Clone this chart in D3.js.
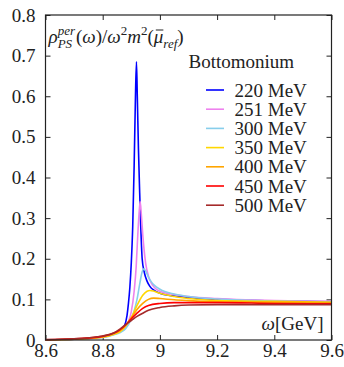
<!DOCTYPE html>
<html>
<head>
<meta charset="utf-8">
<script src="https://cdn.jsdelivr.net/npm/d3@7"></script>
<style>
  body { margin: 0; background: #fff; }
</style>
</head>
<body>
<svg id="chart" width="344" height="367" style="font-family: 'Liberation Serif', 'DejaVu Serif', serif;"></svg>
<script>
// values, [omega GeV, rho/omega^2 m^2]
const s220 = [[8.6,0.0005],[8.7,0.002],[8.75,0.004],[8.8,0.008],[8.84,0.015],[8.86,0.022],[8.875,0.033],[8.885,0.06],[8.89,0.09],[8.895,0.13],[8.9,0.19],[8.905,0.28],[8.91,0.43],[8.914,0.58],[8.918,0.685],[8.921,0.6],[8.925,0.47],[8.929,0.37],[8.933,0.28],[8.938,0.2],[8.945,0.168],[8.955,0.145],[8.965,0.132],[8.98,0.122],[9.0,0.115],[9.03,0.11],[9.1,0.105],[9.2,0.1],[9.3,0.098],[9.4,0.096],[9.5,0.095],[9.6,0.094]];
const s251 = [[8.6,0.0005],[8.7,0.002],[8.8,0.007],[8.84,0.014],[8.86,0.02],[8.88,0.031],[8.89,0.045],[8.9,0.07],[8.91,0.12],[8.917,0.18],[8.922,0.25],[8.927,0.31],[8.931,0.341],[8.935,0.31],[8.94,0.26],[8.945,0.22],[8.95,0.19],[8.96,0.157],[8.97,0.14],[8.98,0.13],[9.0,0.12],[9.05,0.112],[9.1,0.107],[9.2,0.102],[9.3,0.099],[9.4,0.097],[9.5,0.096],[9.6,0.095]];
const s300 = [[8.6,0.0005],[8.7,0.002],[8.8,0.006],[8.84,0.013],[8.86,0.018],[8.88,0.028],[8.9,0.052],[8.91,0.072],[8.92,0.1],[8.93,0.14],[8.938,0.168],[8.944,0.175],[8.95,0.17],[8.96,0.155],[8.97,0.143],[8.98,0.135],[9.0,0.125],[9.05,0.113],[9.1,0.107],[9.2,0.101],[9.3,0.098],[9.4,0.096],[9.6,0.094]];
const s350 = [[8.6,0.0005],[8.7,0.002],[8.8,0.007],[8.84,0.014],[8.86,0.02],[8.88,0.034],[8.9,0.055],[8.92,0.085],[8.94,0.11],[8.955,0.12],[8.965,0.122],[8.98,0.12],[9.0,0.115],[9.05,0.107],[9.1,0.102],[9.2,0.097],[9.4,0.095],[9.6,0.093]];
const s400 = [[8.6,0.0005],[8.7,0.002],[8.8,0.008],[8.84,0.016],[8.86,0.023],[8.88,0.036],[8.9,0.055],[8.92,0.075],[8.94,0.09],[8.96,0.1],[8.978,0.103],[9.0,0.102],[9.05,0.099],[9.1,0.097],[9.2,0.094],[9.4,0.093],[9.6,0.092]];
const s450 = [[8.6,0.0005],[8.7,0.003],[8.8,0.009],[8.84,0.017],[8.86,0.025],[8.88,0.037],[8.9,0.052],[8.92,0.066],[8.94,0.078],[8.96,0.085],[9.0,0.09],[9.05,0.092],[9.1,0.092],[9.2,0.092],[9.4,0.09],[9.6,0.089]];
const s500 = [[8.6,0.001],[8.7,0.003],[8.8,0.01],[8.84,0.018],[8.86,0.027],[8.88,0.038],[8.9,0.048],[8.92,0.058],[8.94,0.066],[8.96,0.073],[9.0,0.08],[9.05,0.084],[9.1,0.086],[9.2,0.087],[9.4,0.087],[9.6,0.087]];

const labels = ["220 MeV", "251 MeV", "300 MeV", "350 MeV", "400 MeV", "450 MeV", "500 MeV"];
const colors = ["#0000ff", "#ee82ee", "#87ceeb", "#ffd700", "#ffa500", "#ff0000", "#a52a2a"];
const allSeries = [s220, s251, s300, s350, s400, s450, s500];

const xTicks = [8.6, 8.8, 9.0, 9.2, 9.4, 9.6];
const yTicks = [0, 0.1, 0.2, 0.3, 0.4, 0.5, 0.6, 0.7, 0.8];

const FS = 19;
const SERIF = "'Liberation Serif', 'DejaVu Serif', serif";
const svg = d3.select("#chart");
const margin = { top: 15, right: 12.5, bottom: 27, left: 45.5 };
const innerWidth = 344 - margin.left - margin.right;
const innerHeight = 367 - margin.top - margin.bottom;

const x = d3.scaleLinear().domain([8.6, 9.6]).range([0, innerWidth]);
const y = d3.scaleLinear().domain([0, 0.8]).range([innerHeight, 0]);

const g = svg.append("g").attr("transform", `translate(${margin.left},${margin.top})`);

const fmt = d => (d === 0 ? "0" : String(+d.toFixed(1)));

function styleAxis(sel, noText) {
    sel.attr("font-family", SERIF).attr("font-size", FS);
    sel.select(".domain").remove();
    sel.selectAll("line").attr("stroke", "#222").attr("stroke-width", 1);
    sel.selectAll("text").attr("fill", "#222");
    if (noText) sel.selectAll("text").remove();
}

// inward ticks on all four sides
g.append("g").attr("transform", `translate(0,${innerHeight})`)
    .call(d3.axisBottom(x).tickValues(xTicks).tickSize(-5).tickPadding(3).tickFormat(fmt))
    .call(s => styleAxis(s));
g.append("g")
    .call(d3.axisTop(x).tickValues(xTicks).tickSize(-5))
    .call(s => styleAxis(s, true));
g.append("g")
    .call(d3.axisLeft(y).tickValues(yTicks).tickSize(-5).tickPadding(10).tickFormat(fmt))
    .call(s => styleAxis(s));
g.append("g").attr("transform", `translate(${innerWidth},0)`)
    .call(d3.axisRight(y).tickValues(yTicks).tickSize(-5))
    .call(s => styleAxis(s, true));

const line = d3.line()
    .x(d => x(d[0]))
    .y(d => y(d[1]))
    .curve(d3.curveMonotoneX);

g.append("g").selectAll("path")
    .data(allSeries)
    .join("path")
    .attr("fill", "none")
    .attr("stroke", (d, i) => colors[i])
    .attr("stroke-width", 1.6)
    .attr("d", line);

g.append("rect")
    .attr("width", innerWidth).attr("height", innerHeight)
    .attr("fill", "none").attr("stroke", "#222").attr("stroke-width", 1.2);

function txt(sel) {
    return sel.append("text").attr("font-family", SERIF).attr("fill", "#222");
}

// legend
const leg = g.append("g").attr("transform", "translate(143,0)");
txt(leg).attr("x", 0).attr("y", 53).attr("font-size", FS).text("Bottomonium");
labels.forEach((lab, i) => {
    const yy = 75 + i * 19.2;
    leg.append("line").attr("x1", 17.5).attr("x2", 35.5).attr("y1", yy).attr("y2", yy)
        .attr("stroke", colors[i]).attr("stroke-width", 1.6);
    txt(leg).attr("x", 46).attr("y", yy).attr("dy", "0.35em")
        .attr("font-size", FS).text(lab);
});

// x label
txt(g).attr("x", innerWidth - 8).attr("y", innerHeight - 10)
    .attr("text-anchor", "end").attr("font-size", FS)
    .html('<tspan font-style="italic">ω</tspan>[GeV]');

// y label built from pieces
const yl = g.append("g").attr("transform", "translate(3,28)");
let cx = 0;
function piece(s, dy, size, italic) {
    const t = txt(yl).attr("x", cx).attr("y", dy)
        .attr("font-size", size).attr("font-style", italic ? "italic" : "normal").text(s);
    return t.node().getComputedTextLength();
}
cx += piece("ρ", 0, FS, true);
const w1 = piece("per", -8, 13, true);
const w2 = piece("PS", 5, 13, true);
cx += Math.max(w1, w2) + 1;
cx += piece("(", 0, FS, false);
cx += piece("ω", 0, FS, true);
cx += piece(")/", 0, FS, false);
cx += piece("ω", 0, FS, true);
cx += piece("2", -8, 13, false);
cx += piece("m", 0, FS, true);
cx += piece("2", -8, 13, false);
cx += piece("(", 0, FS, false);
const wmu = piece("μ", 0, FS, true);
yl.append("line").attr("x1", cx + 2).attr("x2", cx + wmu).attr("y1", -13).attr("y2", -13)
    .attr("stroke", "#222").attr("stroke-width", 1);
cx += wmu;
cx += piece("ref", 5, 13, true);
cx += piece(")", 0, FS, false);
</script>
</body>
</html>
